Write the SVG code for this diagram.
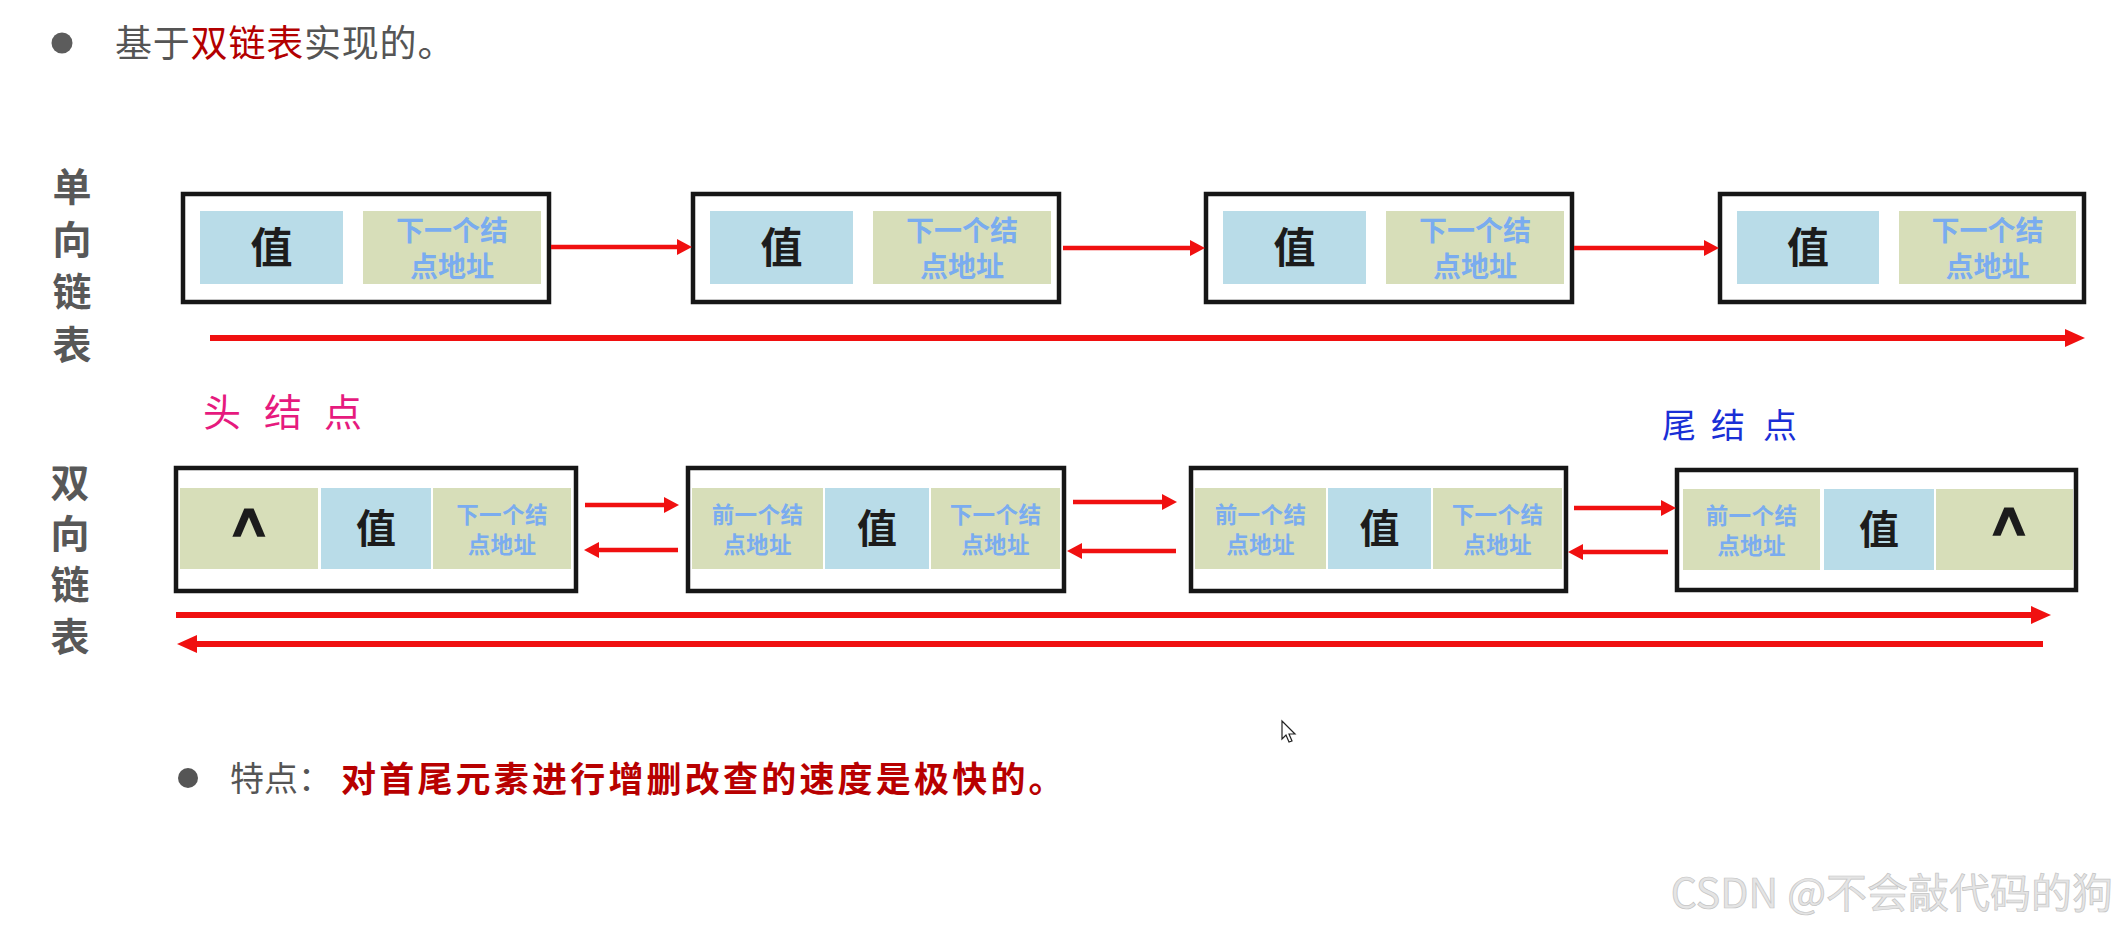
<svg xmlns="http://www.w3.org/2000/svg" width="2122" height="932" viewBox="0 0 2122 932">
<style>
.cjk{font-family:"Noto Sans CJK SC","Noto Sans",sans-serif}
.box{fill:#ffffff;stroke:#161616;stroke-width:4.5}
.val{fill:#b9dce8}
.ptr{fill:#d7deb9}
.vtxt{font-family:"Noto Sans CJK SC",sans-serif;font-weight:bold;fill:#1c1c1c;text-anchor:middle}
.ptxt{font-family:"Noto Sans CJK SC",sans-serif;font-weight:bold;fill:#7aacef;text-anchor:middle}
.dtxt{font-family:"Noto Sans CJK SC",sans-serif;font-weight:bold;fill:#7aacef;text-anchor:middle;font-size:22.5px;letter-spacing:0.4px}
.side{font-family:"Noto Sans CJK SC",sans-serif;font-weight:bold;fill:#585858;font-size:39px;text-anchor:middle}
.arr{stroke:#f01010;fill:none}
.nul{font-family:"DejaVu Sans",sans-serif;font-weight:normal;fill:#1c1c1c;stroke:#1c1c1c;stroke-width:2;text-anchor:middle;font-size:64px}
</style>
<defs>
<marker id="hs" markerUnits="userSpaceOnUse" markerWidth="16" markerHeight="16" refX="6" refY="8" orient="auto">
<path d="M0,0 L15,8 L0,16 Z" fill="#f01010"/>
</marker>
<marker id="hl" markerUnits="userSpaceOnUse" markerWidth="20" markerHeight="20" refX="8" refY="10" orient="auto">
<path d="M0,1 L20,10 L0,19 Z" fill="#f01010"/>
</marker>
</defs>
<rect width="2122" height="932" fill="#ffffff"/>

<g id="title">
<circle cx="62" cy="43" r="10.5" fill="#5c5c5c"/>
<text class="cjk" x="115" y="57" font-size="37" letter-spacing="0.8" fill="#555555">基于<tspan fill="#b30000">双链表</tspan>实现的。</text>
</g>

<g id="label-single">
<text class="side" x="72" y="201">单</text>
<text class="side" x="72" y="254">向</text>
<text class="side" x="72" y="306">链</text>
<text class="side" x="72" y="359">表</text>
</g>
<g id="label-double">
<text class="side" x="70" y="497">双</text>
<text class="side" x="70" y="548">向</text>
<text class="side" x="70" y="599">链</text>
<text class="side" x="70" y="651">表</text>
</g>

<g id="s1">
<rect class="box" x="183" y="194" width="366" height="108"/>
<rect class="val" x="200" y="211" width="143" height="73"/>
<rect class="ptr" x="363" y="211" width="178" height="73"/>
<text class="vtxt" x="271.5" y="263" font-size="42">值</text>
<text class="ptxt" x="452" y="241" font-size="28">下一个结</text>
<text class="ptxt" x="452" y="277" font-size="28">点地址</text>
</g>
<g id="s2">
<rect class="box" x="693" y="194" width="366" height="108"/>
<rect class="val" x="710" y="211" width="143" height="73"/>
<rect class="ptr" x="873" y="211" width="178" height="73"/>
<text class="vtxt" x="781.5" y="263" font-size="42">值</text>
<text class="ptxt" x="962" y="241" font-size="28">下一个结</text>
<text class="ptxt" x="962" y="277" font-size="28">点地址</text>
</g>
<g id="s3">
<rect class="box" x="1206" y="194" width="366" height="108"/>
<rect class="val" x="1223" y="211" width="143" height="73"/>
<rect class="ptr" x="1386" y="211" width="178" height="73"/>
<text class="vtxt" x="1294.5" y="263" font-size="42">值</text>
<text class="ptxt" x="1475" y="241" font-size="28">下一个结</text>
<text class="ptxt" x="1475" y="277" font-size="28">点地址</text>
</g>
<g id="s4">
<rect class="box" x="1720" y="194" width="364" height="108"/>
<rect class="val" x="1737" y="211" width="142" height="73"/>
<rect class="ptr" x="1899" y="211" width="177" height="73"/>
<text class="vtxt" x="1808" y="263" font-size="42">值</text>
<text class="ptxt" x="1987.5" y="241" font-size="28">下一个结</text>
<text class="ptxt" x="1987.5" y="277" font-size="28">点地址</text>
</g>

<g id="head-label">
<text class="cjk" x="222 283 343" y="426" font-size="38" fill="#e61a7e" text-anchor="middle">头结点</text>
</g>
<g id="tail-label">
<text class="cjk" x="1679 1728 1780" y="438" font-size="34" fill="#1a2fd6" text-anchor="middle">尾结点</text>
</g>

<g id="d1">
<rect class="box" x="176" y="468" width="400" height="123"/>
<rect class="ptr" x="180" y="488" width="138" height="81"/>
<rect class="val" x="321" y="488" width="110" height="81"/>
<rect class="ptr" x="433" y="488" width="138" height="81"/>
<text class="nul" transform="translate(249,536) scale(1,0.72)" x="0" y="0">∧</text>
<text class="vtxt" x="376" y="543" font-size="40">值</text>
<text class="dtxt" x="502" y="523">下一个结</text>
<text class="dtxt" x="502" y="553">点地址</text>
</g>
<g id="d2">
<rect class="box" x="688" y="468" width="376" height="123"/>
<rect class="ptr" x="692" y="488" width="131" height="81"/>
<rect class="val" x="825" y="488" width="104" height="81"/>
<rect class="ptr" x="931" y="488" width="129" height="81"/>
<text class="dtxt" x="757.5" y="523">前一个结</text>
<text class="dtxt" x="757.5" y="553">点地址</text>
<text class="vtxt" x="877" y="543" font-size="40">值</text>
<text class="dtxt" x="995.5" y="523">下一个结</text>
<text class="dtxt" x="995.5" y="553">点地址</text>
</g>
<g id="d3">
<rect class="box" x="1191" y="468" width="375" height="123"/>
<rect class="ptr" x="1195" y="488" width="131" height="81"/>
<rect class="val" x="1328" y="488" width="103" height="81"/>
<rect class="ptr" x="1433" y="488" width="129" height="81"/>
<text class="dtxt" x="1260.5" y="523">前一个结</text>
<text class="dtxt" x="1260.5" y="553">点地址</text>
<text class="vtxt" x="1379.5" y="543" font-size="40">值</text>
<text class="dtxt" x="1497.5" y="523">下一个结</text>
<text class="dtxt" x="1497.5" y="553">点地址</text>
</g>
<g id="d4">
<rect class="box" x="1677" y="470" width="399" height="120"/>
<rect class="ptr" x="1683" y="489" width="137" height="81"/>
<rect class="val" x="1824" y="489" width="110" height="81"/>
<rect class="ptr" x="1936" y="489" width="137" height="81"/>
<text class="dtxt" x="1751.5" y="524">前一个结</text>
<text class="dtxt" x="1751.5" y="554">点地址</text>
<text class="vtxt" x="1879" y="544" font-size="40">值</text>
<text class="nul" transform="translate(2009,535) scale(1,0.72)" x="0" y="0">∧</text>
</g>

<g id="connectors">
<line class="arr" stroke-width="4.5" x1="551" y1="247" x2="683" y2="247" marker-end="url(#hs)"/>
<line class="arr" stroke-width="4.5" x1="1063" y1="248" x2="1196" y2="248" marker-end="url(#hs)"/>
<line class="arr" stroke-width="4.5" x1="1574" y1="248" x2="1710" y2="248" marker-end="url(#hs)"/>
<line class="arr" stroke-width="6" x1="210" y1="338" x2="2073" y2="338" marker-end="url(#hl)"/>
<line class="arr" stroke-width="4.5" x1="585" y1="505" x2="670" y2="505" marker-end="url(#hs)"/>
<line class="arr" stroke-width="4.5" x1="678" y1="550" x2="593" y2="550" marker-end="url(#hs)"/>
<line class="arr" stroke-width="4.5" x1="1073" y1="502" x2="1168" y2="502" marker-end="url(#hs)"/>
<line class="arr" stroke-width="4.5" x1="1176" y1="551" x2="1076" y2="551" marker-end="url(#hs)"/>
<line class="arr" stroke-width="4.5" x1="1574" y1="508" x2="1667" y2="508" marker-end="url(#hs)"/>
<line class="arr" stroke-width="4.5" x1="1668" y1="552" x2="1577" y2="552" marker-end="url(#hs)"/>
<line class="arr" stroke-width="6" x1="176" y1="615" x2="2039" y2="615" marker-end="url(#hl)"/>
<line class="arr" stroke-width="6" x1="2043" y1="644" x2="189" y2="644" marker-end="url(#hl)"/>
</g>

<g id="feature">
<circle cx="188" cy="778" r="10" fill="#555555"/>
<text class="cjk" x="230" y="791" font-size="34" fill="#555555">特点：</text>
<text class="cjk" x="341" y="792" font-size="35" font-weight="bold" fill="#b80000" letter-spacing="3.2">对首尾元素进行增删改查的速度是极快的。</text>
</g>

<g id="cursor">
<path d="M1282,721 L1282,739 L1286,735 L1289,742 L1292,741 L1289,734 L1295,734 Z" fill="#ffffff" stroke="#222222" stroke-width="1.2"/>
</g>

<g id="watermark">
<text class="cjk" x="2113" y="908" font-size="41" fill="#e4e4e4" stroke="#c4c4c4" stroke-width="0.7" text-anchor="end">CSDN @不会敲代码的狗</text>
</g>
</svg>
